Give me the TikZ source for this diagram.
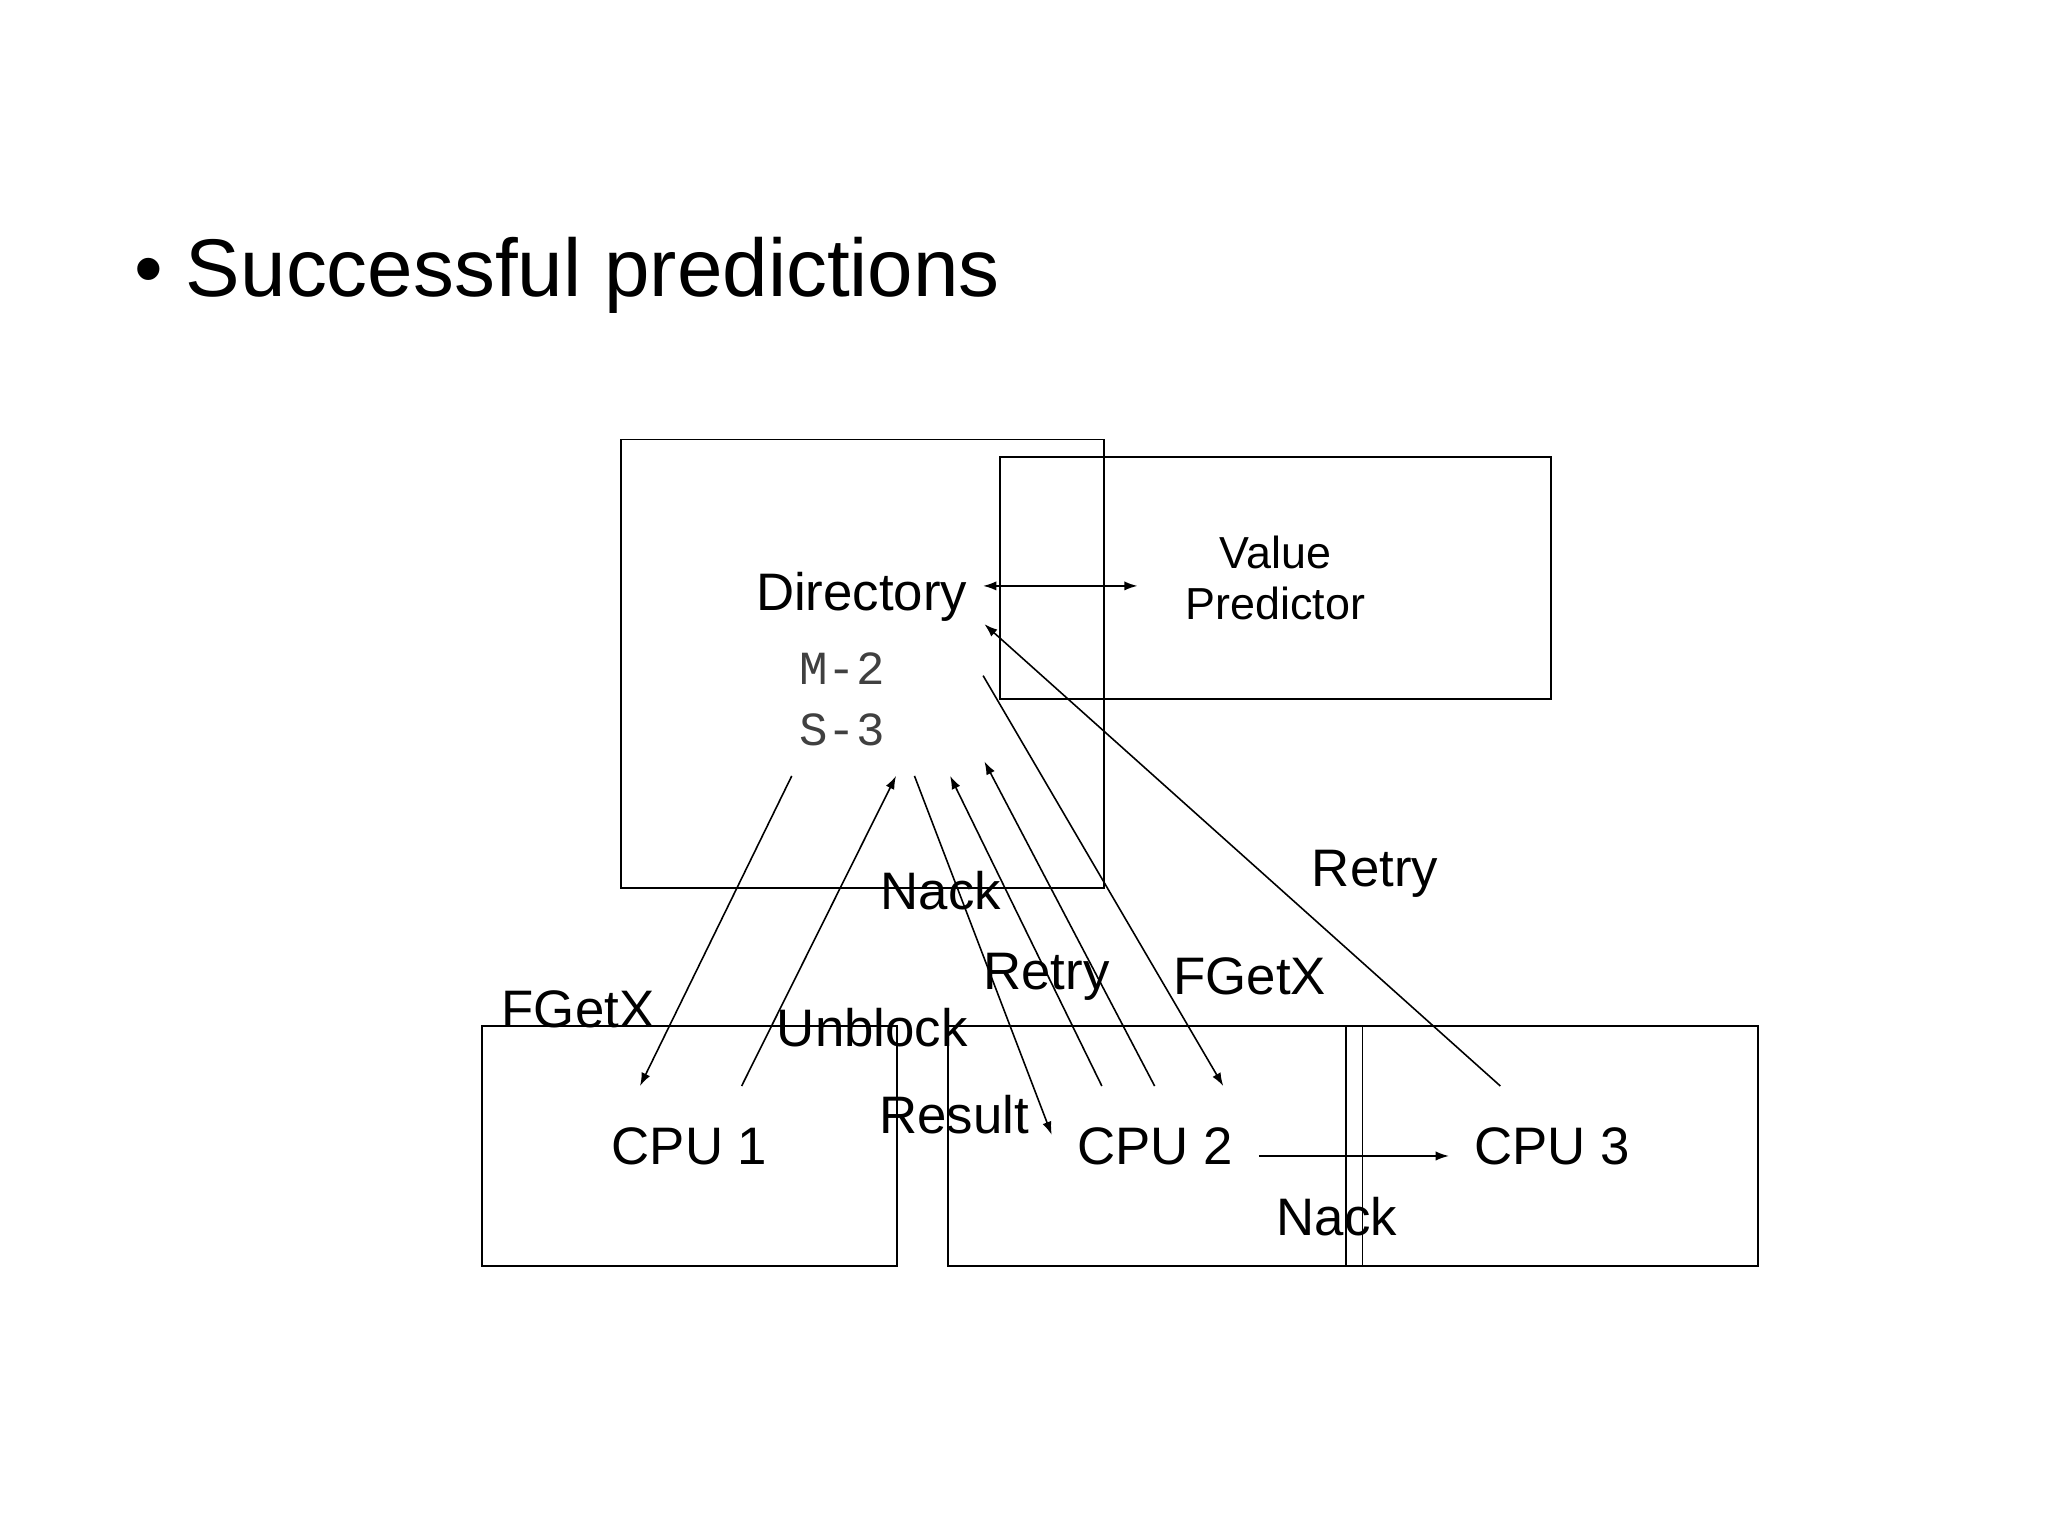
\documentclass[tikz,border=0pt]{standalone}
\usepackage{fontspec}
\setmainfont{Liberation Sans}
\newfontfamily\monofont{Liberation Mono}
\usetikzlibrary{arrows.meta}
\begin{document}
\begin{tikzpicture}[x=0.5pt,y=-0.5pt,
  box/.style={draw,line width=0.7pt,inner sep=0pt},
  lbl/.style={font=\fontsize{20}{24}\selectfont},
  arr/.style={line width=0.6pt,-{Latex[length=5pt,width=3.5pt]}},
  darr/.style={line width=0.6pt,{Latex[length=5pt,width=3.5pt]}-{Latex[length=5pt,width=3.5pt]}}]
\useasboundingbox (0,0) rectangle (1552,1164);
\node[anchor=base west,font=\fontsize{31}{36}\selectfont] (title) at (95,225) {\textbullet\ Successful predictions};
\node[box,minimum width=183,minimum height=170] (dir) at (653.5,503) {};
\node[box,minimum width=209,minimum height=92,align=center,font=\fontsize{17}{21}\selectfont] (vp) at (966.5,438) {Value\\[-2pt]Predictor};
\node[box,minimum width=157,minimum height=91,lbl] (c1) at (522.5,868.5) {CPU 1};
\node[box,minimum width=157,minimum height=91,lbl] (c2) at (875.5,868.5) {CPU 2};
\node[box,minimum width=156,minimum height=91,lbl] (c3) at (1176,868.5) {CPU 3};
\node[lbl] (dirt) at (653,452) {Directory};
\node[font=\monofont\fontsize{18}{20}\selectfont,text=black!75] (m2) at (638,507) {M-2};
\node[font=\monofont\fontsize{18}{20}\selectfont,text=black!75] (s3) at (638,553) {S-3};
% endpoints
\coordinate (a1) at (600,588); \coordinate (a2) at (485,823);
\coordinate (b1) at (562,823); \coordinate (b2) at (679,588);
\coordinate (d1) at (693,588); \coordinate (d2) at (797,860);
\coordinate (e1) at (835,823); \coordinate (e2) at (720,588);
\coordinate (f1) at (875,823); \coordinate (f2) at (746,577);
\coordinate (g1) at (745,512); \coordinate (g2) at (927,823);
\coordinate (h1) at (1137,823); \coordinate (h2) at (746,473);
\coordinate (v1) at (745,444); \coordinate (v2) at (862,444);
\coordinate (n1) at (954,876); \coordinate (n2) at (1098,876);
\draw[darr] (v1) -- (v2);
\draw[arr] (a1) -- (a2);
\draw[arr] (b1) -- (b2);
\draw[arr] (d1) -- (d2);
\draw[arr] (e1) -- (e2);
\draw[arr] (f1) -- (f2);
\draw[arr] (g1) -- (g2);
\draw[arr] (h1) -- (h2);
\draw[arr] (n1) -- (n2);
\node[lbl] (l1) at (713,675) {Nack};
\node[lbl] (l2) at (793,740) {Retry};
\node[lbl] (l3) at (438,765) {FGetX};
\node[lbl] (l4) at (661,779) {Unblock};
\node[lbl] (l5) at (723,845) {Result};
\node[lbl] (l6) at (947,740) {FGetX};
\node[lbl] (l7) at (1042,662) {Retry};
\node[lbl] (l8) at (1013,922) {Nack};
\end{tikzpicture}
\end{document}
